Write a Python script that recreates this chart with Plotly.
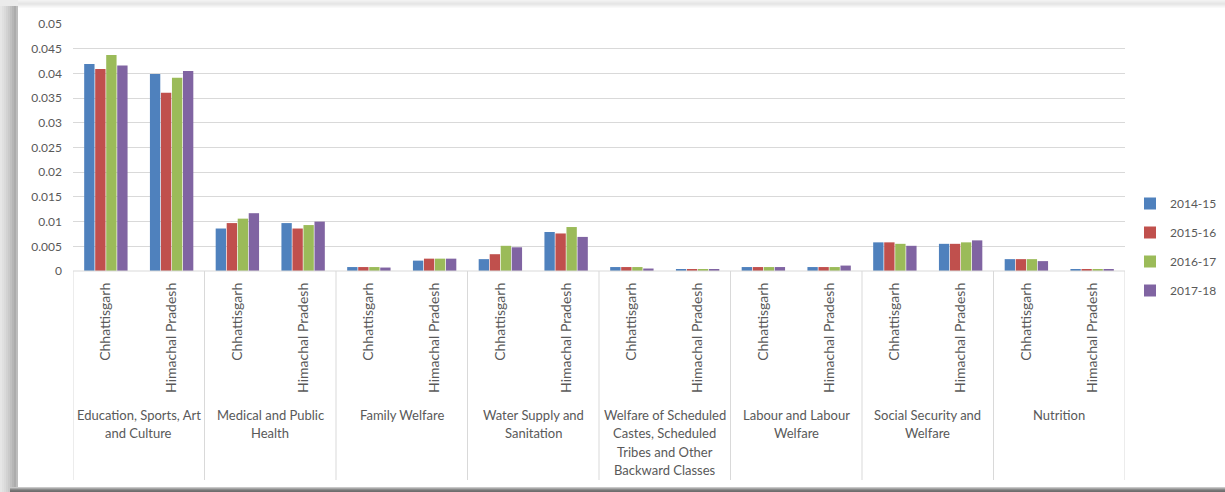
import plotly.graph_objects as go

# Expenditure share by sector, two states, four fiscal years
sectors = [
    "Education, Sports, Art<br>and Culture",
    "Medical and Public<br>Health",
    "Family Welfare",
    "Water Supply and<br>Sanitation",
    "Welfare of Scheduled<br>Castes, Scheduled<br>Tribes and Other<br>Backward Classes",
    "Labour and Labour<br>Welfare",
    "Social Security and<br>Welfare",
    "Nutrition",
]
states = ["Chhattisgarh", "Himachal Pradesh"]
years = ["2014-15", "2015-16", "2016-17", "2017-18"]

# one value per (sector, state) pair, sector-major order
v_2014_15 = [0.0419, 0.0399, 0.0086, 0.0097, 0.0008, 0.0021, 0.0024, 0.0079,
             0.0008, 0.0004, 0.0008, 0.0008, 0.0058, 0.0055, 0.0024, 0.0004]
v_2015_16 = [0.0409, 0.0361, 0.0097, 0.0086, 0.0008, 0.0025, 0.0034, 0.0076,
             0.0008, 0.0004, 0.0008, 0.0008, 0.0058, 0.0055, 0.0024, 0.0004]
v_2016_17 = [0.0437, 0.0391, 0.0106, 0.0093, 0.0008, 0.0025, 0.0051, 0.0089,
             0.0008, 0.0004, 0.0008, 0.0008, 0.0055, 0.0058, 0.0024, 0.0004]
v_2017_18 = [0.0416, 0.0405, 0.0117, 0.0100, 0.0007, 0.0025, 0.0048, 0.0069,
             0.0005, 0.0004, 0.0008, 0.0011, 0.0051, 0.0062, 0.0020, 0.0004]

y_ticks = [0, 0.005, 0.01, 0.015, 0.02, 0.025, 0.03, 0.035, 0.04, 0.045, 0.05]
y_tick_text = ["0", "0.005", "0.01", "0.015", "0.02", "0.025", "0.03", "0.035", "0.04", "0.045", "0.05"]

series = [v_2014_15, v_2015_16, v_2016_17, v_2017_18]
colors = ["#4F81BD", "#C0504D", "#9BBB59", "#8064A2"]

W, H = 1225, 492
L, R, T, B = 73, 100, 24, 221
PW, PH = W - L - R, H - T - B

FONT = "Lato"
TXT = "#595959"
GRID = "#D9D9D9"

n_slots = len(sectors) * len(states)
xpos = list(range(n_slots))
xlabels = [states[i % len(states)] for i in xpos]

fig = go.Figure()
for name, vals, col in zip(years, series, colors):
    fig.add_trace(go.Bar(
        x=xpos, y=vals, name=name, legendgroup=name,
        marker=dict(color=col, line=dict(width=0)),
    ))


def px_x(p):
    return (p - L) / PW


def px_y(p):
    return (H - B - p) / PH


shapes = []
# page backdrop with a soft frame shadow
shapes.append(dict(type="rect", xref="paper", yref="paper", layer="below",
                   x0=px_x(0), x1=px_x(W), y0=px_y(0), y1=px_y(H),
                   fillcolor="#EBEBEB", line=dict(width=0)))
left_shade = ["#E6E6E6", "#E0E0E0", "#DADADA", "#D2D2D2", "#CACACA",
              "#C0C0C0", "#B6B6B6", "#ACACAC", "#BDBDBD"]
for i, c in enumerate(left_shade):
    shapes.append(dict(type="rect", xref="paper", yref="paper", layer="below",
                       x0=px_x(i * 2), x1=px_x(i * 2 + 2), y0=px_y(6), y1=px_y(H),
                       fillcolor=c, line=dict(width=0)))
top_shade = ["#F2F2F2", "#EEEEEE", "#EAEAEA", "#E6E6E6", "#E8E8E8", "#EEEEEE", "#F4F4F4", "#F9F9F9"]
for i, c in enumerate(top_shade):
    shapes.append(dict(type="rect", xref="paper", yref="paper", layer="below",
                       x0=px_x(18), x1=px_x(W), y0=px_y(i), y1=px_y(i + 1),
                       fillcolor=c, line=dict(width=0)))
bottom_shade = ["#C8C8C8", "#A8A8A8", "#8A8A8A", "#767676", "#6E6E6E"]
for i, c in enumerate(bottom_shade):
    shapes.append(dict(type="rect", xref="paper", yref="paper", layer="below",
                       x0=px_x(10), x1=px_x(W), y0=px_y(487 + i), y1=px_y(488 + i),
                       fillcolor=c, line=dict(width=0)))
shapes.append(dict(type="rect", xref="paper", yref="paper", layer="below",
                   x0=px_x(18), x1=px_x(W), y0=px_y(8), y1=px_y(487),
                   fillcolor="#FFFFFF", line=dict(width=0)))

# category axis base line and group dividers
shapes.append(dict(type="line", xref="x", yref="paper", x0=-0.5, x1=n_slots - 0.5,
                   y0=0, y1=0, line=dict(color=GRID, width=1)))
for g in range(len(sectors) + 1):
    xb = g * len(states) - 0.5
    shapes.append(dict(type="line", xref="x", yref="paper", x0=xb, x1=xb,
                       y0=0, y1=px_y(480), line=dict(color=GRID, width=1)))

annotations = []
line_h = 18.3
first_line_y = 415
for g, label in enumerate(sectors):
    xc = g * len(states) + (len(states) - 1) / 2
    for k, line in enumerate(label.split("<br>")):
        annotations.append(dict(
            x=xc, y=px_y(first_line_y + k * line_h), xref="x", yref="paper",
            text=line, showarrow=False, xanchor="center", yanchor="middle",
            font=dict(family=FONT, size=13, color=TXT),
        ))

fig.update_layout(
    width=W, height=H,
    margin=dict(l=L, r=R, t=T, b=B, pad=0, autoexpand=False),
    paper_bgcolor="#FFFFFF", plot_bgcolor="#FFFFFF",
    barmode="group", bargap=0.33, bargroupgap=0.06,
    font=dict(family=FONT, size=12, color=TXT),
    shapes=shapes, annotations=annotations,
    showlegend=True,
    legend=dict(
        x=px_x(1130), y=px_y(189), xanchor="left", yanchor="top",
        font=dict(family=FONT, size=12, color=TXT),
        traceorder="grouped", tracegroupgap=10,
        bgcolor="rgba(0,0,0,0)", itemwidth=30,
    ),
    xaxis=dict(
        range=[-0.5, n_slots - 0.5], tickmode="array", tickvals=xpos, ticktext=xlabels,
        tickangle=-90, showgrid=False, zeroline=False, showline=False, ticks="",
        ticklabelstandoff=8, tickfont=dict(family=FONT, size=14, color=TXT),
    ),
    yaxis=dict(
        range=[0, 0.05], tickmode="array", tickvals=y_ticks, ticktext=y_tick_text,
        showgrid=True, gridcolor=GRID, gridwidth=1, zeroline=False, showline=False,
        ticks="", ticklabelstandoff=10, tickfont=dict(family=FONT, size=12, color=TXT),
    ),
)

fig.write_html("out.html")
